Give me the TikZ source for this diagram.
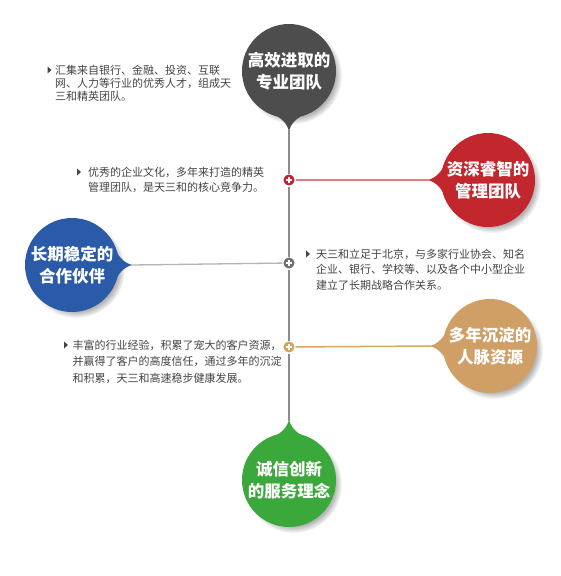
\documentclass[tikz,border=0pt]{standalone}
\usepackage{fontspec}
\setmainfont{Noto Sans CJK SC}
\usetikzlibrary{calc,shadows}
\definecolor{dkC}{HTML}{4D4D4D}
\definecolor{rdC}{HTML}{C1272D}
\definecolor{blC}{HTML}{2B5BA8}
\definecolor{orC}{HTML}{CF9F65}
\definecolor{gnC}{HTML}{3AA83A}
\definecolor{txtC}{HTML}{444444}
\definecolor{vlineC}{HTML}{8C8C8C}
\definecolor{rlineC}{HTML}{E57B85}
\definecolor{glineC}{HTML}{B4B4B4}
\definecolor{olineC}{HTML}{D6A766}
\definecolor{mrC}{HTML}{C8202E}
\definecolor{mgC}{HTML}{707070}
\definecolor{moC}{HTML}{D6A35E}
\newcommand\pintip[3]{%
  \fill[#3] ($(#1)+(#2+22:46pt)$) .. controls ($(#1)+(#2+10:47pt)$) and ($(#1)+(#2+2.5:52pt)$) .. ($(#1)+(#2:60pt)$)
    .. controls ($(#1)+(#2-2.5:52pt)$) and ($(#1)+(#2-10:47pt)$) .. ($(#1)+(#2-22:46pt)$) -- cycle;}
\tikzset{
  bubble/.style={circle, minimum size=94pt, inner sep=0pt, fill=#1, text=white,
    font=\fontsize{16.5}{22.5}\selectfont\bfseries, align=center,
    circular drop shadow={shadow xshift=4pt, shadow yshift=-4pt, shadow scale=1.04, fill=black, opacity=0.3}},
  body/.style={text=txtC, font=\fontsize{11}{#1}\selectfont, align=left, inner sep=0pt, anchor=north west},
  marker/.style={circle, minimum size=12pt, inner sep=0pt, fill=#1, draw=white, line width=1pt,
    path picture={\draw[white, line width=1.8pt]
      ([xshift=-3.3pt]path picture bounding box.center) -- ([xshift=3.3pt]path picture bounding box.center)
      ([yshift=-3.3pt]path picture bounding box.center) -- ([yshift=3.3pt]path picture bounding box.center);}},
  bulletmark/.style={fill=txtC},
}
\begin{document}
\begin{tikzpicture}[x=1pt, y=-1pt]
\fill[white] (0,0) rectangle (560,576);
\useasboundingbox (0,0) rectangle (560,576);

% bubbles
\node[bubble=dkC] (dk) at (289,71) {高效进取的\\专业团队};
\node[bubble=rdC] (rd) at (488,180) {资深睿智的\\管理团队};
\node[bubble=blC] (bl) at (72,265) {长期稳定的\\合作伙伴};
\node[bubble=orC] (or) at (490,346) {多年沉淀的\\人脉资源};
\node[bubble=gnC] (gn) at (289,480) {诚信创新\\的服务理念};

% tips
\pintip{dk}{-90}{dkC}
\pintip{rd}{180}{rdC}
\pintip{bl}{0}{blC}
\pintip{or}{180}{orC}
\pintip{gn}{90}{gnC}
\coordinate (dkT) at ($(dk)+(-90:59pt)$);
\coordinate (rdT) at ($(rd)+(180:59pt)$);
\coordinate (blT) at ($(bl)+(0:59pt)$);
\coordinate (orT) at ($(or)+(180:59pt)$);
\coordinate (gnT) at ($(gn)+(90:59pt)$);

% markers
\node[marker=mrC] (mr) at (289,180) {};
\node[marker=mgC] (mg) at (289,263) {};
\node[marker=moC] (mo) at (289,347) {};

% connectors
\begin{scope}[on background layer/.style={}]
\draw[vlineC, line width=2pt] (dkT) -- (mr);
\draw[vlineC, line width=2pt] (mr) -- (mg);
\draw[vlineC, line width=2pt] (mg) -- (mo);
\draw[vlineC, line width=2pt] (mo) -- (gnT);
\draw[rlineC, line width=1.1pt] (mr) -- (rdT);
\draw[glineC, line width=1.3pt] (blT) -- (mg);
\draw[olineC, line width=1.5pt] (mo) -- (orT);
\end{scope}

% texts
\node[body=13.4] (t1) at (55,64.5) {汇集来自银行、金融、投资、互联\\网、人力等行业的优秀人才，组成天\\三和精英团队。};
\node[body=15] (t2) at (88,166.5) {优秀的企业文化，多年来打造的精英\\管理团队，是天三和的核心竞争力。};
\node[body=15.5] (t3) at (316,248.5) {天三和立足于北京，与多家行业协会、知名\\企业、银行、学校等、以及各个中小型企业\\建立了长期战略合作关系。};
\node[body=16.5] (t4) at (72.5,339.5) {丰富的行业经验，积累了宠大的客户资源，\\并赢得了客户的高度信任，通过多年的沉淀\\和积累，天三和高速稳步健康发展。};

% bullets
\fill[bulletmark] (47.5,66.5) -- (51.5,70) -- (47.5,73.5) -- cycle;
\fill[bulletmark] (77,168.5) -- (81,172) -- (77,175.5) -- cycle;
\fill[bulletmark] (306,250.5) -- (310,254) -- (306,257.5) -- cycle;
\fill[bulletmark] (64,341.5) -- (68,345) -- (64,348.5) -- cycle;
\end{tikzpicture}
\end{document}
